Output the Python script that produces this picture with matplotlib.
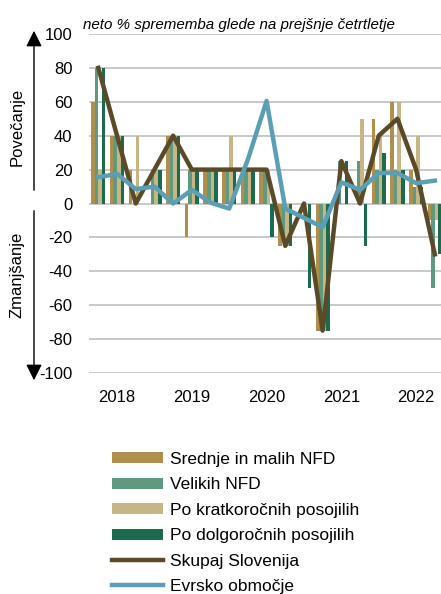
import numpy as np
import matplotlib.pyplot as plt
from matplotlib.patches import Patch
from matplotlib.lines import Line2D

plt.rcParams['font.family'] = ['Liberation Sans', 'DejaVu Sans']

# 2018Q1 .. 2022Q3
years = ['2018', '2019', '2020', '2021', '2022']
srednje = [60, 40, 20, 0, 40, -20, 20, 20, 20, 20, -25, 0, -75, 0, 0, 50, 60, 20, -10]
velikih = [80, 40, 0, 20, 40, 20, 20, 20, 20, 20, -20, 0, -75, 25, 25, 20, 20, 10, -50]
kratko = [20, 40, 40, 20, 40, 20, 20, 40, 20, 20, -25, 0, -75, 0, 50, 40, 60, 40, -10]
dolgo = [80, 40, 0, 20, 40, 20, 20, 20, 20, -20, -25, -50, -75, 25, -25, 30, 20, 10, -30]
skupaj = [80, 40, 0, 20, 40, 20, 20, 20, 20, 20, -25, 0, -75, 25, 0, 40, 50, 20, -30]
evro = [15.5, 17.5, 8.5, 10, 0, 8, 0.5, -3, 26, 60.5, -3, -8.5, -14, 12.5, 8, 18, 18, 12, 13.5]

bar_series = [
    ('Srednje in malih NFD', srednje, '#AF8F4B'),
    ('Velikih NFD', velikih, '#5F9980'),
    ('Po kratkoročnih posojilih', kratko, '#C8B584'),
    ('Po dolgoročnih posojilih', dolgo, '#1D6B4E'),
]
c_skupaj = '#5A4A28'
c_evro = '#5A9FB5'

W, H = 441, 594
fig = plt.figure(figsize=(W / 100, H / 100), dpi=100)
ax = fig.add_axes([89 / W, 1 - 373 / H, (441 - 89) / W, (373 - 34) / H])

x = np.arange(len(skupaj))
w = 0.19
for i, (name, vals, col) in enumerate(bar_series):
    ax.bar(x + (i - 1.5) * w, vals, width=w, color=col, zorder=2)

ax.plot(x, skupaj, color=c_skupaj, lw=3.2, zorder=3)
ax.plot(x, evro, color=c_evro, lw=3.2, zorder=4)

ax.set_xlim(-0.5, 18.33)
ax.set_ylim(-100, 100)
ax.set_yticks(np.arange(-100, 101, 20))
ax.set_yticklabels([str(v) for v in range(-100, 101, 20)], fontsize=12)
ax.set_xticks([1, 5, 9, 13, 17])
ax.set_xticklabels(years, fontsize=12)
ax.tick_params(axis='both', length=0, pad=12)
ax.grid(axis='y', color='#BFBFBF', lw=1.2, zorder=0)
ax.set_axisbelow(True)
for s in ax.spines.values():
    s.set_visible(False)

# naslov
fig.text(83 / W, 1 - 25 / H, 'neto % sprememba glede na prejšnje četrtletje',
         style='italic', fontsize=10.9, ha='left', va='center')

# puščici ob osi
ax.annotate('', xy=(34, H - 28), xytext=(34, H - 193), xycoords='figure pixels',
            textcoords='figure pixels',
            arrowprops=dict(arrowstyle='-|>', color='black', lw=1, mutation_scale=24))
ax.annotate('', xy=(34, H - 383), xytext=(34, H - 208), xycoords='figure pixels',
            textcoords='figure pixels',
            arrowprops=dict(arrowstyle='-|>', color='black', lw=1, mutation_scale=24))
fig.text(17 / W, 1 - 127 / H, 'Povečanje', rotation=90, fontsize=12, ha='center', va='center')
fig.text(17 / W, 1 - 275 / H, 'Zmanjšanje', rotation=90, fontsize=12, ha='center', va='center')

# legenda
handles = [Patch(facecolor=c, edgecolor='none', label=n) for n, _, c in bar_series]
handles += [Line2D([0], [0], color=c_skupaj, lw=3.2, label='Skupaj Slovenija'),
            Line2D([0], [0], color=c_evro, lw=3.2, label='Evrsko območje')]
fig.legend(handles=handles, loc='upper left', bbox_to_anchor=(112 / W, 1 - 452 / H),
           frameon=False, fontsize=12.5, handlelength=2.95, handleheight=0.6,
           handletextpad=0.4, labelspacing=0.6, borderpad=0, borderaxespad=0)

fig.savefig('out.png', dpi=100)
